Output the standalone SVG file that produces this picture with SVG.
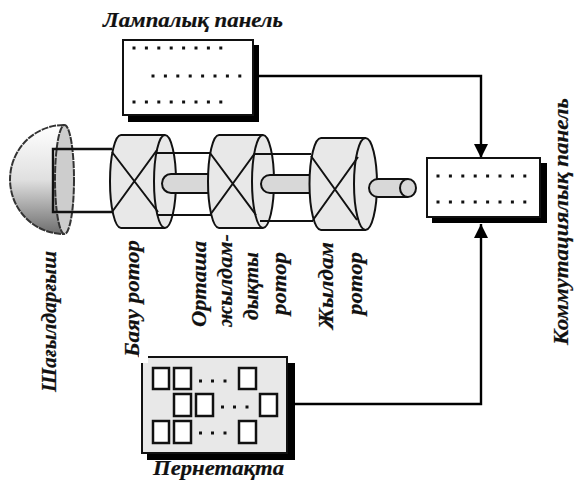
<svg xmlns="http://www.w3.org/2000/svg" width="574" height="481" viewBox="0 0 574 481">
<style>
.t{font-family:"Liberation Serif","DejaVu Serif",serif;font-weight:bold;font-style:italic;font-size:21px;fill:#111;stroke:#111;stroke-width:.2}
.box{fill:#fff;stroke:#111;stroke-width:2}
.sh{fill:#000}
.d{fill:#111}
.rotor{fill:#e8e8e8;stroke:#111;stroke-width:2}
.ln{fill:none;stroke:#111;stroke-width:2}
.dash{fill:none;stroke:#333;stroke-width:2;stroke-dasharray:7 1}
.shaft{fill:#d8d8d8;stroke:#111;stroke-width:2}
.conn{fill:none;stroke:#000;stroke-width:2.400}
.key{fill:#fff;stroke:#111;stroke-width:2.500}
</style>
<defs>
<linearGradient id="g" x1="0" y1="0" x2="0" y2="1"><stop offset="0" stop-color="#fff"/><stop offset=".5" stop-color="#e0e0e0"/><stop offset="1" stop-color="#6e6e6e"/></linearGradient>
<marker id="a" markerUnits="userSpaceOnUse" markerWidth="15" markerHeight="15" refX="14" refY="7" orient="auto"><path d="M0 0L14 7L0 14Z" fill="#000"/></marker>
<g id="dots8"><rect x="-1.500" y="-1.500" width="3" height="3"/><rect x="10.900" y="-1.500" width="3" height="3"/><rect x="23.300" y="-1.500" width="3" height="3"/><rect x="35.700" y="-1.500" width="3" height="3"/><rect x="48.100" y="-1.500" width="3" height="3"/><rect x="60.500" y="-1.500" width="3" height="3"/><rect x="72.900" y="-1.500" width="3" height="3"/><rect x="85.300" y="-1.500" width="3" height="3"/></g>
</defs>
<g id="connectors">
<path class="conn" d="M259 76H481V158" marker-end="url(#a)"/>
<path class="conn" d="M295 404H481V224" marker-end="url(#a)"/>
</g>
<g id="lamp-panel">
<rect class="sh" x="128" y="45" width="131" height="77"/>
<rect class="box" x="123" y="40" width="130" height="75"/>
<use href="#dots8" class="d" x="134" y="48"/>
<use href="#dots8" class="d" x="153" y="76"/>
<use href="#dots8" class="d" x="134" y="102"/>
<text class="t" x="103" y="27" textLength="180" lengthAdjust="spacingAndGlyphs">Лампалық панель</text>
</g>
<g id="switch-panel">
<rect class="sh" x="432" y="163" width="115" height="60"/>
<rect class="box" x="427" y="158" width="113" height="59"/>
<use href="#dots8" class="d" x="438" y="176"/>
<use href="#dots8" class="d" x="438" y="202"/>
<text class="t" transform="translate(568 345) rotate(-90)" textLength="247" lengthAdjust="spacingAndGlyphs">Коммутациялық панель</text>
</g>
<g id="reflector">
<path d="M64 125A54 54.500 0 0 0 64 234Z" fill="url(#g)"/>
<ellipse cx="64.500" cy="179.500" rx="9.500" ry="54.500" fill="#cdcdcd"/>
<path class="dash" d="M64 125A54 54.500 0 0 0 64 234"/>
<ellipse class="dash" cx="64.500" cy="179.500" rx="9.500" ry="54.500"/>
<path d="M112 149H53V212H112" fill="none" stroke="#111" stroke-width="2.400"/>
<text class="t" transform="translate(56 392) rotate(-90)" textLength="141" lengthAdjust="spacingAndGlyphs">Шағылдарғыш</text>
</g>
<g id="slow-rotor">
<path class="rotor" d="M121 135H165A11 46.500 0 0 1 165 228H121A11 46.500 0 0 1 121 135Z"/>
<path class="ln" d="M165 135A11 46.500 0 0 0 165 228"/>
<path class="ln" d="M112 152L158 212M112 212L157 150"/>
<text class="t" transform="translate(139 357) rotate(-90)" textLength="117" lengthAdjust="spacingAndGlyphs">Баяу ротор</text>
</g>
<g id="shaft-1">
<path class="ln" d="M157 153H213M157 215H213"/>
<path class="shaft" d="M209 174H171A9 9.500 0 0 0 171 193H209"/>
</g>
<g id="mid-rotor">
<path class="rotor" d="M219 135H263A11 46.500 0 0 1 263 228H219A11 46.500 0 0 1 219 135Z"/>
<path class="ln" d="M263 135A11 46.500 0 0 0 263 228"/>
<path class="ln" d="M210 153L256 215M210 215L255 153"/>
<text class="t" transform="translate(206 327) rotate(-90)" textLength="86" lengthAdjust="spacingAndGlyphs">Орташа</text>
<text class="t" transform="translate(232 327) rotate(-90)" textLength="93" lengthAdjust="spacingAndGlyphs">жылдам-</text>
<text class="t" transform="translate(258 320) rotate(-90)" textLength="68" lengthAdjust="spacingAndGlyphs">дықты</text>
<text class="t" transform="translate(286 315) rotate(-90)" textLength="63" lengthAdjust="spacingAndGlyphs">ротор</text>
</g>
<g id="shaft-2">
<path class="ln" d="M254 154H311M260 221H313"/>
<path class="shaft" d="M310 175H270A9 9 0 0 0 270 193H310"/>
</g>
<g id="fast-rotor">
<path class="rotor" d="M321 138H365.500A11.500 46 0 0 1 365.500 230H321A11.500 46 0 0 1 321 138Z"/>
<path class="ln" d="M365.500 138A11.500 46 0 0 0 365.500 230"/>
<path class="ln" d="M311 156L357 220M313 220L358 157"/>
<path class="shaft" d="M408 179H378A9 9 0 0 0 378 197H408"/>
<ellipse class="shaft" cx="408" cy="188" rx="8" ry="9"/>
<text class="t" transform="translate(333 329) rotate(-90)" textLength="87" lengthAdjust="spacingAndGlyphs">Жылдам</text>
<text class="t" transform="translate(362 315) rotate(-90)" textLength="63" lengthAdjust="spacingAndGlyphs">ротор</text>
</g>
<g id="keyboard">
<rect class="sh" x="147" y="363" width="148" height="97"/>
<rect x="142" y="357" width="145" height="96" fill="#e8e8e8" stroke="#111" stroke-width="2"/>
<rect x="139" y="354" width="9" height="9" fill="#fff"/>
<rect class="key" x="153" y="368" width="16" height="21"/><rect class="key" x="174" y="368" width="17" height="21"/><rect class="key" x="239" y="368" width="17" height="21"/>
<rect class="key" x="174" y="394" width="17" height="22"/><rect class="key" x="196" y="394" width="17" height="22"/><rect class="key" x="260" y="394" width="17" height="22"/>
<rect class="key" x="153" y="421" width="16" height="22"/><rect class="key" x="174" y="421" width="17" height="22"/><rect class="key" x="239" y="421" width="17" height="22"/>
<g class="d"><rect x="199" y="379.500" width="3" height="3"/><rect x="211" y="379.500" width="3" height="3"/><rect x="223.500" y="379.500" width="3" height="3"/>
<rect x="221" y="405.500" width="3" height="3"/><rect x="233" y="405.500" width="3" height="3"/><rect x="245.500" y="405.500" width="3" height="3"/>
<rect x="199" y="431.500" width="3" height="3"/><rect x="211" y="431.500" width="3" height="3"/><rect x="223.500" y="431.500" width="3" height="3"/></g>
<text class="t" x="153" y="475" textLength="131" lengthAdjust="spacingAndGlyphs">Пернетақта</text>
</g>
</svg>
